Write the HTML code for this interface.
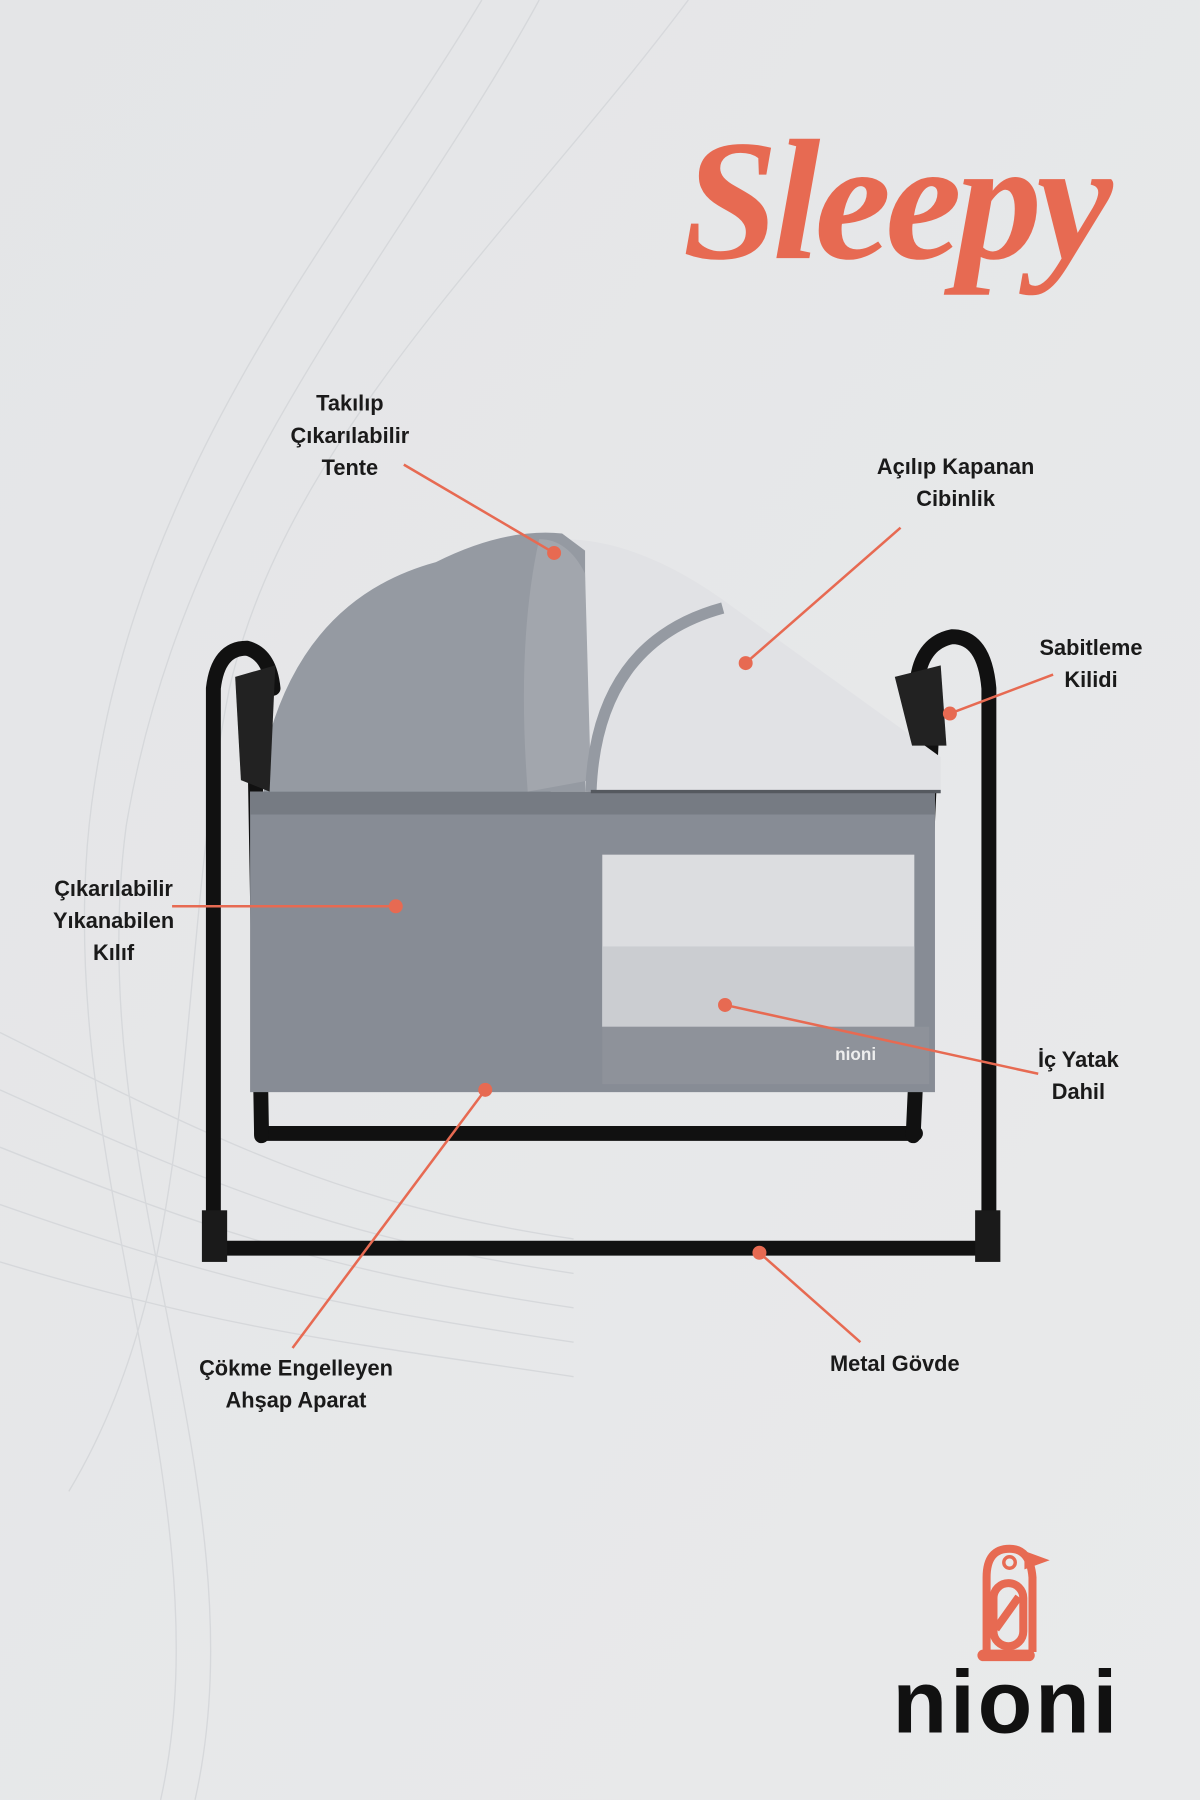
<!DOCTYPE html>
<html><head><meta charset="utf-8"><style>
html,body{margin:0;padding:0;width:1200px;height:1800px;overflow:hidden;background:#e7e8e9}
#w{position:absolute;left:0;top:0;width:1046px;height:1569px;transform:scale(1.1472);transform-origin:0 0;font-family:"Liberation Sans",sans-serif}
.l{position:absolute;font-weight:bold;font-size:19px;color:#1a1a1a;text-align:center;line-height:28px;transform:translateX(-50%);white-space:nowrap}
</style></head><body><div id="w">
<svg width="1046" height="1569" style="position:absolute;left:0;top:0">
<defs><linearGradient id="bg" x1="0" y1="0" x2="1" y2="1"><stop offset="0" stop-color="#e4e5e7"/><stop offset="1" stop-color="#e9eaeb"/></linearGradient></defs>
<rect width="1046" height="1569" fill="url(#bg)"/>
<g fill="none" stroke="#d3d5d8" stroke-width="1.2" opacity="0.8">
<path d="M420 0 C300 200 120 400 80 700 C40 1000 200 1300 140 1569"/>
<path d="M470 0 C350 220 160 420 110 720 C70 1020 230 1300 170 1569"/>
<path d="M600 0 C450 200 250 380 200 600 C150 850 180 1100 60 1300"/>
<path d="M0 900 C200 1000 300 1050 500 1080"/>
<path d="M0 950 C200 1040 300 1080 500 1110"/>
<path d="M0 1000 C200 1080 300 1110 500 1140"/>
<path d="M0 1050 C200 1120 300 1140 500 1170"/>
<path d="M0 1100 C200 1160 300 1170 500 1200"/>
</g>
<g fill="none" stroke="#111" stroke-width="13" stroke-linecap="round">
<path d="M186 1065 L186 600 Q190 565 215 565 Q235 570 238 600"/>
<path d="M862 1065 L862 600 Q858 555 830 555 Q805 560 800 590"/>
<path d="M192 1088 L858 1088"/>
<path d="M228 988 L798 988"/>
<path d="M228 990 L222 640"/>
<path d="M796 990 L812 640"/>
</g>
<rect x="176" y="1055" width="22" height="45" fill="#1a1a1a"/>
<rect x="850" y="1055" width="22" height="45" fill="#1a1a1a"/>
<rect x="218" y="690" width="597" height="262" fill="#878c95"/>
<rect x="218" y="690" width="597" height="20" fill="#767b83"/>
<rect x="525" y="745" width="272" height="150" fill="#dcdde0"/>
<rect x="525" y="825" width="272" height="70" fill="#cbcdd1"/>
<rect x="525" y="895" width="285" height="50" fill="#8e929a"/>
<path d="M490 470 Q560 470 640 530 L820 660 L820 690 L480 690 Z" fill="#e1e2e5"/>
<path d="M230 690 L235 640 Q270 520 380 490 Q440 460 490 465 L510 480 L510 690 Z" fill="#959aa2"/>
<path d="M470 470 Q495 470 510 500 L515 680 L460 690 Q450 560 470 470Z" fill="#a2a6ad"/>
<path d="M515 690 Q520 560 630 530" fill="none" stroke="#959aa2" stroke-width="10"/>
<path d="M515 690 L820 690" stroke="#55595f" stroke-width="3"/>
<path d="M205 590 L240 580 L235 690 L210 680Z" fill="#222"/>
<path d="M780 590 L820 580 L825 650 L795 650Z" fill="#222"/>
<text x="728" y="924" font-family="Liberation Sans" font-weight="bold" font-size="15" fill="#eee">nioni</text>
<g stroke="#e76a52" stroke-width="2.2" fill="#e76a52">
<line x1="352" y1="405" x2="483" y2="482"/><circle cx="483" cy="482" r="5"/>
<line x1="785" y1="460" x2="650" y2="578"/><circle cx="650" cy="578" r="5"/>
<line x1="918" y1="588" x2="828" y2="622"/><circle cx="828" cy="622" r="5"/>
<line x1="150" y1="790" x2="345" y2="790"/><circle cx="345" cy="790" r="5"/>
<line x1="905" y1="936" x2="632" y2="876"/><circle cx="632" cy="876" r="5"/>
<line x1="255" y1="1175" x2="423" y2="950"/><circle cx="423" cy="950" r="5"/>
<line x1="750" y1="1170" x2="662" y2="1092"/><circle cx="662" cy="1092" r="5"/>
</g>
<g fill="none" stroke="#e76a52" stroke-width="7">
<path d="M860 1440 L860 1375 Q860 1350 880 1350 Q898 1350 900 1375 L900 1440"/>
<rect x="866" y="1380" width="26" height="55" rx="13"/>
<path d="M868 1420 L888 1392"/>
</g>
<path d="M893 1352 L915 1360 L893 1368Z" fill="#e76a52"/>
<circle cx="880" cy="1362" r="5" fill="none" stroke="#e76a52" stroke-width="3"/>
<rect x="852" y="1438" width="50" height="10" rx="5" fill="#e76a52"/>
<text x="595" y="225" font-family="Liberation Serif" font-style="italic" font-weight="bold" font-size="150" fill="#e76a52" textLength="375">Sleepy</text>
<text x="778" y="1510" font-family="Liberation Sans" font-weight="bold" font-size="78" fill="#111" textLength="196">nioni</text>
</svg>
<div class="l" style="left:305px;top:339px">Takılıp<br>Çıkarılabilir<br>Tente</div>
<div class="l" style="left:833px;top:394px">Açılıp Kapanan<br>Cibinlik</div>
<div class="l" style="left:951px;top:552px">Sabitleme<br>Kilidi</div>
<div class="l" style="left:99px;top:762px">Çıkarılabilir<br>Yıkanabilen<br>Kılıf</div>
<div class="l" style="left:940px;top:911px">İç Yatak<br>Dahil</div>
<div class="l" style="left:258px;top:1180px">Çökme Engelleyen<br>Ahşap Aparat</div>
<div class="l" style="left:780px;top:1176px">Metal Gövde</div>
</div></body></html>
